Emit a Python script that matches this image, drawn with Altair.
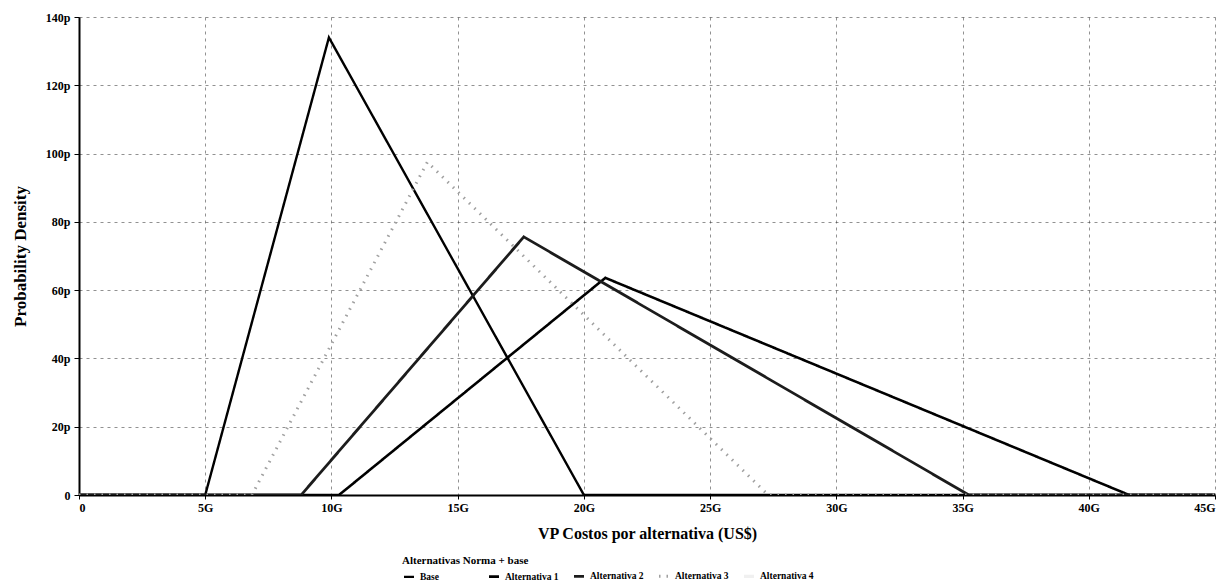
import altair as alt
import pandas as pd

# ---- data (x in G, y in p) ----
series = ["Base", "Alternativa 1", "Alternativa 2", "Alternativa 3", "Alternativa 4"]

base_x = [0, 5.0, 9.9, 20.0, 45]
base_y = [0, 0, 134.0, 0, 0]

alt1_x = [0, 10.3, 20.85, 41.6, 45]
alt1_y = [0, 0, 63.6, 0, 0]

alt2_x = [0, 8.8, 17.62, 35.25, 45]
alt2_y = [0, 0, 75.6, 0, 0]

alt3_x = [0, 6.85, 13.8, 27.3, 45]
alt3_y = [0, 0, 97.5, 0, 0]

x_ticks = [0, 5, 10, 15, 20, 25, 30, 35, 40, 45]
y_ticks = [0, 20, 40, 60, 80, 100, 120, 140]

line_colors = ["#000000", "#000000", "#1c1c1c", "#a0a0a0", "#f0f0f0"]
line_widths = [2.4, 3.2, 1.2, 1.2, 1.0]
line_dashes = [[1, 0], [1, 0], [1, 0], [1.5, 6], [1, 0]]

rows = []
for name, xs, ys in [
    ("Base", base_x, base_y),
    ("Alternativa 1", alt1_x, alt1_y),
    ("Alternativa 2", alt2_x, alt2_y),
    ("Alternativa 3", alt3_x, alt3_y),
]:
    for i, (xv, yv) in enumerate(zip(xs, ys)):
        rows.append({"serie": name, "costo": xv, "densidad": yv, "orden": i})
df = pd.DataFrame(rows)

FONT = "Liberation Serif"

chart = (
    alt.Chart(df)
    .mark_line(clip=True)
    .encode(
        x=alt.X(
            "costo:Q",
            scale=alt.Scale(domain=[0, 45], nice=False),
            axis=alt.Axis(
                values=x_ticks,
                labelExpr="datum.value == 0 ? '0' : datum.value + 'G'",
                title="VP Costos por alternativa (US$)",
                titleFontSize=16,
                labelFontSize=12,
                labelPadding=3,
                titlePadding=12,
                tickSize=4,
            ),
        ),
        y=alt.Y(
            "densidad:Q",
            scale=alt.Scale(domain=[0, 140], nice=False),
            axis=alt.Axis(
                values=y_ticks,
                labelExpr="datum.value == 0 ? '0' : datum.value + 'p'",
                title="Probability Density",
                titleFontSize=17,
                labelFontSize=12,
                labelPadding=4,
                titlePadding=16,
                tickSize=5,
            ),
        ),
        color=alt.Color(
            "serie:N",
            scale=alt.Scale(domain=series, range=line_colors),
            legend=alt.Legend(
                title="Alternativas Norma + base",
                orient="none",
                legendX=323,
                legendY=538,
                direction="horizontal",
                columns=5,
                gridAlign="all",
                symbolType="stroke",
                symbolSize=100,
                titleFont=FONT,
                titleFontSize=11,
                titleFontWeight="bold",
                titleColor="black",
                titlePadding=3,
                labelFont=FONT,
                labelFontSize=9.5,
                labelFontWeight="bold",
                labelColor="black",
                labelOffset=4,
                columnPadding=8,
            ),
        ),
        strokeWidth=alt.StrokeWidth(
            "serie:N", scale=alt.Scale(domain=series, range=line_widths)
        ),
        strokeDash=alt.StrokeDash(
            "serie:N", scale=alt.Scale(domain=series, range=line_dashes)
        ),
        order="orden:Q",
    )
    .properties(
        width=1136,
        height=478,
        autosize=alt.AutoSizeParams(type="none"),
        padding={"left": 71, "top": 9, "right": 5, "bottom": 90},
        background="white",
    )
    .configure_axis(
        labelFont=FONT,
        titleFont=FONT,
        labelFontWeight="bold",
        titleFontWeight="bold",
        labelColor="black",
        titleColor="black",
        domainColor="black",
        domainWidth=2,
        tickColor="black",
        tickWidth=1,
        gridColor="#3a3a3a",
        gridWidth=0.8,
        gridDash=[3, 4],
        gridOpacity=0.7,
    )
    .configure_view(stroke=None)
)

chart.save("out.html", embed_options={"renderer": "svg", "actions": False})
